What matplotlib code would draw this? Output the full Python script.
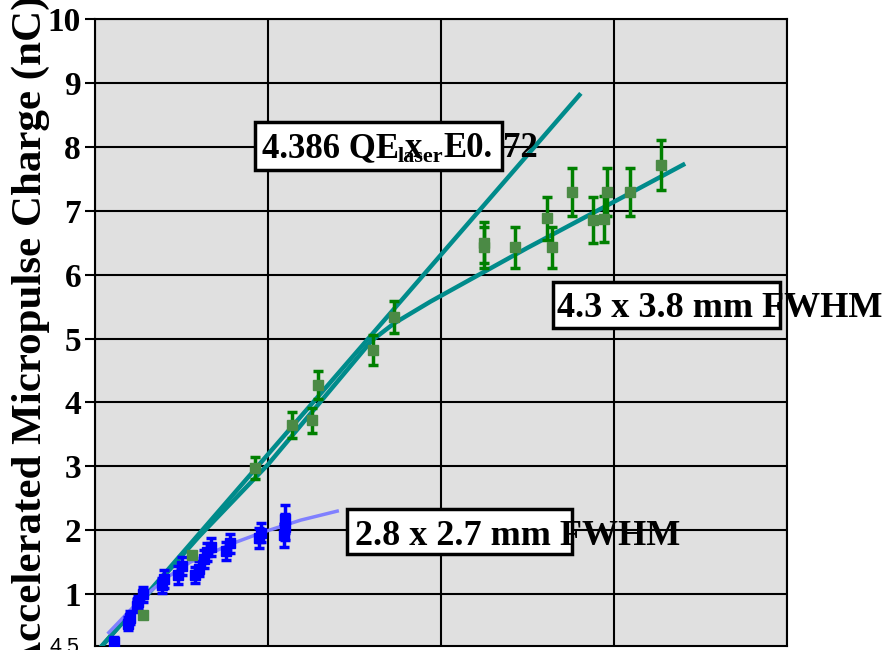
import matplotlib.pyplot as plt
from matplotlib.patches import Rectangle

# ---- data (x in grid units, y in nC) ----
blue_x = [0.11, 0.19, 0.20, 0.24, 0.25, 0.28, 0.39, 0.40, 0.48, 0.50, 0.58,
          0.60, 0.63, 0.65, 0.67, 0.76, 0.78, 0.95, 0.96, 1.09, 1.10, 1.10]
blue_y = [0.25, 0.54, 0.63, 0.82, 0.88, 1.00, 1.14, 1.24, 1.30, 1.44, 1.30,
          1.40, 1.55, 1.66, 1.74, 1.68, 1.80, 1.88, 1.96, 1.92, 2.05, 2.18]
blue_err = [0.08, 0.10, 0.10, 0.10, 0.10, 0.12, 0.12, 0.14, 0.14, 0.14, 0.12,
            0.12, 0.14, 0.14, 0.14, 0.14, 0.15, 0.15, 0.15, 0.18, 0.20, 0.22]

green_x = [0.28, 0.56, 0.925, 1.14, 1.254, 1.29, 1.607, 1.728, 2.25, 2.25,
           2.43, 2.61, 2.64, 2.76, 2.88, 2.94, 2.96, 3.09, 3.27]
green_y = [0.67, 1.61, 2.97, 3.65, 3.72, 4.27, 4.82, 5.34, 6.43, 6.50,
           6.43, 6.88, 6.43, 7.29, 6.85, 6.87, 7.29, 7.29, 7.72]
green_err = [0.04, 0.04, 0.17, 0.20, 0.20, 0.22, 0.23, 0.25, 0.32, 0.32,
             0.32, 0.33, 0.32, 0.38, 0.36, 0.36, 0.38, 0.38, 0.39]

# power-law fit to all points
fit_all_x = [0.03, 2.80]
fit_all_y = [0.16, 8.81]
# saturating fit, 4.3 x 3.8 mm spot
fit_large_x = [0.03, 0.6, 1.0, 1.3, 1.6, 1.73, 1.94, 2.5, 3.0, 3.40]
fit_large_y = [0.16, 1.90, 3.03, 4.00, 4.97, 5.24, 5.58, 6.42, 7.14, 7.72]
# saturating fit, 2.8 x 2.7 mm spot
fit_small_x = [0.08, 0.26, 0.42, 0.55, 0.80, 0.97, 1.19, 1.40]
fit_small_y = [0.40, 0.91, 1.27, 1.50, 1.80, 1.97, 2.16, 2.30]

yticks = [1, 2, 3, 4, 5, 6, 7, 8, 9, 10]

W, H = 889, 650
serif = 'Liberation Serif'

fig = plt.figure(figsize=(W / 100, H / 100), dpi=100)
ax = fig.add_axes([95 / W, 4 / H, 692 / W, 627 / H])
ax.set_facecolor('#e0e0e0')

ax.plot(fit_all_x, fit_all_y, color='#008b8b', lw=3.2, zorder=3)
ax.plot(fit_large_x, fit_large_y, color='#008b8b', lw=3.2, zorder=3)
ax.plot(fit_small_x, fit_small_y, color='#8080ff', lw=2.5, zorder=3)

ax.errorbar(blue_x, blue_y, yerr=blue_err, fmt='s', color='#0000ff',
            ms=7, elinewidth=2.5, capsize=3.5, capthick=2.5, zorder=4)
ax.errorbar(green_x, green_y, yerr=green_err, fmt='s', mfc='#4b8a45',
            mec='#4b8a45', ecolor='#008000', ms=7, elinewidth=2.5,
            capsize=3.5, capthick=2.5, zorder=4)

ax.set_xlim(0, 4)
ax.set_ylim(0.19, 10)
ax.set_xticks([0, 1, 2, 3, 4])
ax.set_yticks(yticks)
ax.set_yticklabels([str(v) for v in yticks], fontfamily=serif,
                   fontweight='bold', fontsize=24)
ax.tick_params(axis='y', length=7, width=1.5, pad=3, direction='out')
ax.tick_params(axis='x', length=0, labelbottom=False)
ax.grid(True, color='black', lw=1.5)
ax.set_axisbelow(True)
for s in ax.spines.values():
    s.set_color('black')
    s.set_linewidth(1.5)


def fx(x):
    return x / W


def fy(y):
    return 1 - y / H


def box(x0, y0, x1, y1):
    # white fill under the text, frame on top of it
    fig.add_artist(Rectangle((fx(x0), fy(y1)), fx(x1 - x0), (y1 - y0) / H,
                             transform=fig.transFigure, facecolor='white',
                             edgecolor='none', zorder=5))
    fig.add_artist(Rectangle((fx(x0), fy(y1)), fx(x1 - x0), (y1 - y0) / H,
                             transform=fig.transFigure, facecolor='none',
                             edgecolor='black', lw=2.5, zorder=7))


tkw = dict(fontfamily=serif, fontweight='bold', va='baseline', zorder=6)

box(255, 122, 502, 170)
fig.text(fx(262), fy(157), '4.386 QE', fontsize=25, **tkw)
fig.text(fx(398), fy(162), 'laser', fontsize=16, **tkw)
fig.text(fx(405), fy(157), 'x', fontsize=25, **tkw)
fig.text(fx(443), fy(157), 'E0.', fontsize=25, **tkw)
fig.text(fx(503), fy(157), '72', fontsize=25, **tkw)

box(553, 282, 780, 328)
fig.text(fx(557), fy(317), '4.3 x 3.8 mm FWHM', fontsize=26, **tkw)

box(347, 509, 572, 554)
fig.text(fx(355), fy(545), '2.8 x 2.7 mm FWHM', fontsize=26, **tkw)

fig.text(fx(31), fy(334), 'Accelerated Micropulse Charge (nC)',
         rotation=90, ha='center', va='center', fontsize=31,
         fontfamily=serif, fontweight='bold')
fig.text(fx(50), fy(653), '4.5', fontsize=15.5, fontfamily='Liberation Sans',
         va='baseline')

fig.savefig('out.png', dpi=100)
